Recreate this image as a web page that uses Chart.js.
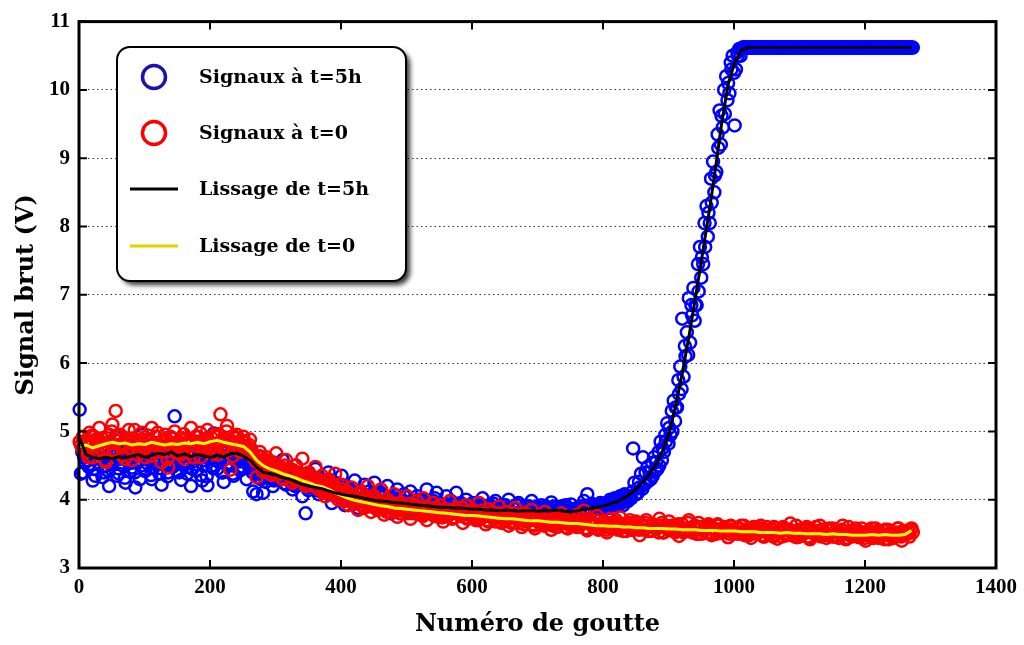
<!DOCTYPE html>
<html>
<head>
<meta charset="utf-8">
<script src="https://cdn.jsdelivr.net/npm/chart.js@4.4.1/dist/chart.umd.min.js"></script>
<style>
  html, body { margin: 0; padding: 0; background: #fff; }
  #wrap { width: 1024px; height: 645px; position: relative; }
</style>
</head>
<body>
<div id="wrap"><canvas id="chart"></canvas></div>
<script>
// Drop numbers: scatter sampled every 5 drops in three interleaved passes, smoothed curves every 10
const FIRST_DROP_A = 1;
const FIRST_DROP_B = 3;
const FIRST_DROP_C = 5;
const SCATTER_STEP = 5;
const SMOOTH_STEP = 10;

const xTicks = [0, 200, 400, 600, 800, 1000, 1200, 1400];
const yTicks = [3, 4, 5, 6, 7, 8, 9, 10, 11];

// Signaux à t=5h (blue circles), drops 1, 6, 11, ...
const signal5hA = [
  5.32, 4.40, 4.70, 4.52, 4.28, 4.85, 4.61, 4.33, 4.74, 4.20,
  4.55, 4.92, 4.38, 4.66, 4.25, 4.80, 4.47, 4.18, 4.70, 4.95,
  4.42, 4.60, 4.30, 4.83, 4.52, 4.22, 4.68, 4.40, 4.90, 5.22,
  4.55, 4.29, 4.75, 4.48, 4.20, 4.63, 4.85, 4.36, 4.58, 4.21,
  4.72, 4.97, 4.45, 4.62, 4.26, 4.80, 4.50, 4.35, 4.70, 4.43,
  4.62, 4.30, 4.55, 4.12, 4.08, 4.40, 4.10, 4.55, 4.32, 4.20,
  4.48, 4.35, 4.58, 4.22, 4.40, 4.15, 4.50, 4.28, 4.05, 3.80,
  4.38, 4.20, 4.45, 4.08, 4.30, 4.12, 4.40, 3.95, 4.25, 4.10,
  4.35, 3.92, 4.18, 4.02, 4.28, 3.88, 4.12, 4.22, 3.95, 4.05,
  4.25, 3.85, 4.10, 3.98, 4.20, 3.80, 4.02, 4.15, 3.90, 4.08,
  3.82, 4.12, 3.95, 4.05, 3.78, 4.00, 4.15, 3.88, 3.98, 4.10,
  3.75, 3.92, 4.05, 3.85, 3.95, 4.10, 3.80, 3.92, 4.00, 3.83,
  3.95, 3.72, 3.90, 4.02, 3.82, 3.92, 3.78, 3.98, 3.85, 3.76,
  3.92, 4.00, 3.80, 3.88, 3.95, 3.78, 3.90, 3.82, 3.98, 3.75,
  3.88, 3.92, 3.80, 3.86, 3.96, 3.78, 3.85, 3.90, 3.77, 3.84,
  3.93, 3.80, 3.88, 3.76, 3.98, 4.08, 3.82, 3.90, 3.80, 3.95,
  3.85, 3.92, 4.00, 3.88, 3.96, 4.05, 3.92, 4.02, 4.05, 4.75,
  4.08, 4.18, 4.62, 4.25, 4.40, 4.35, 4.55, 4.50, 4.75, 4.85,
  5.05, 5.00, 5.35, 5.55, 6.65, 6.10, 6.95, 6.70, 6.85, 7.05,
  7.55, 7.70, 8.20, 8.35, 8.75, 9.15, 9.62, 9.65, 10.10, 10.30,
  9.48, 10.50, 10.60, 10.62, 10.62, 10.62, 10.62, 10.62, 10.62, 10.62,
  10.62, 10.62, 10.62, 10.62, 10.62, 10.62, 10.62, 10.62, 10.62, 10.62,
  10.62, 10.62, 10.62, 10.62, 10.62, 10.62, 10.62, 10.62, 10.62, 10.62,
  10.62, 10.62, 10.62, 10.62, 10.62, 10.62, 10.62, 10.62, 10.62, 10.62,
  10.62, 10.62, 10.62, 10.62, 10.62, 10.62, 10.62, 10.62, 10.62, 10.62,
  10.62, 10.62, 10.62, 10.62, 10.62
];

// Signaux à t=5h, drops 3, 8, 13, ...
const signal5hB = [
  4.38, 4.62, 4.58, 4.70, 4.45, 4.55, 4.78, 4.40, 4.64, 4.52,
  4.68, 4.35, 4.60, 4.50, 4.75, 4.42, 4.62, 4.56, 4.30, 4.66,
  4.54, 4.72, 4.46, 4.60, 4.38, 4.66, 4.52, 4.80, 4.48, 4.62,
  4.40, 4.70, 4.56, 4.64, 4.45, 4.52, 4.68, 4.28, 4.62, 4.74,
  4.50, 4.58, 4.68, 4.40, 4.60, 4.52, 4.72, 4.58, 4.46, 4.64,
  4.55, 4.60, 4.48, 4.52, 4.38, 4.30, 4.44, 4.36, 4.46, 4.28,
  4.38, 4.30, 4.42, 4.34, 4.26, 4.38, 4.22, 4.32, 4.28, 4.18,
  4.24, 4.30, 4.14, 4.22, 4.18, 4.26, 4.10, 4.20, 4.14, 4.06,
  4.12, 4.04, 4.14, 4.08, 3.98, 4.10, 4.02, 4.06, 4.12, 3.96,
  4.04, 3.98, 4.08, 3.92, 4.02, 3.96, 4.06, 3.90, 3.98, 4.04,
  3.92, 3.98, 3.88, 4.00, 3.94, 3.86, 3.96, 3.92, 4.02, 3.88,
  3.94, 3.86, 3.92, 3.98, 3.84, 3.90, 3.95, 3.86, 3.92, 3.88,
  3.84, 3.92, 3.86, 3.80, 3.90, 3.86, 3.94, 3.82, 3.88, 3.92,
  3.84, 3.80, 3.88, 3.92, 3.82, 3.86, 3.80, 3.90, 3.85, 3.88,
  3.80, 3.86, 3.90, 3.82, 3.84, 3.88, 3.80, 3.86, 3.92, 3.82,
  3.86, 3.80, 3.84, 3.90, 3.82, 3.88, 3.94, 3.86, 3.92, 3.88,
  3.94, 3.88, 3.96, 4.02, 3.92, 4.00, 4.08, 3.98, 4.02, 4.25,
  4.10, 4.38, 4.22, 4.48, 4.30, 4.62, 4.45, 4.85, 4.70, 5.12,
  4.95, 5.45, 5.35, 5.95, 5.80, 6.45, 6.30, 7.10, 6.85, 7.70,
  7.45, 8.30, 8.05, 8.95, 8.80, 9.70, 9.45, 10.20, 9.95, 10.50,
  10.30, 10.60, 10.62, 10.62, 10.62, 10.62, 10.62, 10.62, 10.62, 10.62,
  10.62, 10.62, 10.62, 10.62, 10.62, 10.62, 10.62, 10.62, 10.62, 10.62,
  10.62, 10.62, 10.62, 10.62, 10.62, 10.62, 10.62, 10.62, 10.62, 10.62,
  10.62, 10.62, 10.62, 10.62, 10.62, 10.62, 10.62, 10.62, 10.62, 10.62,
  10.62, 10.62, 10.62, 10.62, 10.62, 10.62, 10.62, 10.62, 10.62, 10.62,
  10.62, 10.62, 10.62, 10.62, 10.62
];

// Signaux à t=5h, drops 5, 10, 15, ...
const signal5hC = [
  4.70, 4.55, 4.48, 4.66, 4.35, 4.60, 4.72, 4.50, 4.42, 4.64,
  4.58, 4.46, 4.70, 4.32, 4.62, 4.54, 4.40, 4.68, 4.50, 4.44,
  4.62, 4.36, 4.56, 4.70, 4.46, 4.60, 4.34, 4.66, 4.52, 4.42,
  4.64, 4.50, 4.38, 4.70, 4.56, 4.44, 4.62, 4.50, 4.34, 4.60,
  4.46, 4.66, 4.54, 4.40, 4.70, 4.52, 4.38, 4.62, 4.56, 4.48,
  4.60, 4.52, 4.40, 4.46, 4.32, 4.42, 4.26, 4.38, 4.30, 4.40,
  4.30, 4.40, 4.24, 4.36, 4.30, 4.20, 4.34, 4.22, 4.30, 4.14,
  4.28, 4.16, 4.24, 4.12, 4.20, 4.10, 4.18, 4.06, 4.14, 4.02,
  4.14, 4.00, 4.10, 4.04, 3.96, 4.08, 4.00, 3.94, 4.06, 3.98,
  3.94, 4.04, 3.92, 4.00, 3.88, 3.98, 3.94, 3.86, 3.98, 3.92,
  3.88, 3.96, 3.90, 3.84, 3.96, 3.88, 3.92, 3.84, 3.94, 3.86,
  3.92, 3.84, 3.90, 3.86, 3.94, 3.82, 3.88, 3.92, 3.84, 3.90,
  3.82, 3.88, 3.92, 3.84, 3.80, 3.90, 3.86, 3.82, 3.92, 3.84,
  3.88, 3.82, 3.86, 3.92, 3.80, 3.86, 3.90, 3.82, 3.84, 3.90,
  3.82, 3.88, 3.84, 3.80, 3.90, 3.84, 3.86, 3.80, 3.88, 3.84,
  3.80, 3.86, 3.90, 3.82, 3.88, 3.84, 3.92, 3.86, 3.90, 3.94,
  3.90, 3.96, 3.92, 3.98, 4.02, 3.96, 4.06, 4.02, 4.12, 4.08,
  4.26, 4.16, 4.40, 4.28, 4.54, 4.42, 4.70, 4.58, 4.95, 4.82,
  5.30, 5.15, 5.75, 5.62, 6.25, 6.12, 6.85, 6.62, 7.45, 7.25,
  8.05, 7.85, 8.70, 8.50, 9.35, 9.20, 10.00, 9.85, 10.40, 10.25,
  10.55, 10.50, 10.62, 10.62, 10.62, 10.62, 10.62, 10.62, 10.62, 10.62,
  10.62, 10.62, 10.62, 10.62, 10.62, 10.62, 10.62, 10.62, 10.62, 10.62,
  10.62, 10.62, 10.62, 10.62, 10.62, 10.62, 10.62, 10.62, 10.62, 10.62,
  10.62, 10.62, 10.62, 10.62, 10.62, 10.62, 10.62, 10.62, 10.62, 10.62,
  10.62, 10.62, 10.62, 10.62, 10.62, 10.62, 10.62, 10.62, 10.62, 10.62,
  10.62, 10.62, 10.62, 10.62
];

// Signaux à t=0 (red circles), drops 1, 6, 11, ...
const signal0A = [
  4.85, 4.92, 4.70, 4.98, 4.62, 4.88, 5.05, 4.72, 4.55, 4.95,
  5.10, 5.30, 4.80, 4.65, 4.90, 5.02, 4.58, 4.85, 4.75, 4.98,
  4.62, 4.88, 5.05, 4.70, 4.82, 4.55, 4.95, 4.47, 4.78, 5.00,
  4.68, 4.90, 4.60, 4.85, 5.05, 4.72, 4.92, 4.62, 4.88, 5.02,
  4.75, 4.95, 4.66, 5.25, 4.90, 5.08, 4.44, 4.82, 4.95, 4.70,
  4.92, 4.78, 4.88, 4.62, 4.33, 4.70, 4.50, 4.62, 4.38, 4.55,
  4.68, 4.42, 4.30, 4.58, 4.45, 4.25, 4.50, 4.35, 4.60, 4.20,
  4.40, 4.28, 4.48, 4.15, 4.35, 4.05, 4.30, 4.12, 4.38, 4.00,
  4.22, 4.08, 3.92, 4.18, 4.02, 3.85, 4.12, 3.95, 4.20, 3.82,
  4.05, 3.90, 4.15, 3.78, 4.00, 3.92, 4.08, 3.75, 3.95, 3.85,
  4.05, 3.72, 3.90, 3.98, 3.80, 4.02, 3.70, 3.88, 3.95, 3.76,
  3.92, 3.68, 3.85, 3.98, 3.74, 3.88, 3.80, 3.66, 3.92, 3.78,
  3.85, 3.70, 3.95, 3.75, 3.64, 3.86, 3.78, 3.68, 3.90, 3.72,
  3.82, 3.62, 3.76, 3.88, 3.70, 3.60, 3.80, 3.72, 3.85, 3.58,
  3.74, 3.66, 3.82, 3.70, 3.56, 3.76, 3.64, 3.80, 3.68, 3.58,
  3.74, 3.62, 3.78, 3.66, 3.84, 3.55, 3.70, 3.62, 3.76, 3.58,
  3.68, 3.52, 3.72, 3.60, 3.66, 3.74, 3.54, 3.64, 3.70, 3.56,
  3.66, 3.48, 3.62, 3.70, 3.55, 3.64, 3.58, 3.72, 3.52, 3.62,
  3.68, 3.55, 3.60, 3.47, 3.64, 3.56, 3.70, 3.52, 3.60, 3.66,
  3.50, 3.58, 3.64, 3.48, 3.56, 3.62, 3.52, 3.58, 3.45, 3.60,
  3.54, 3.50, 3.62, 3.48, 3.56, 3.44, 3.58, 3.52, 3.62, 3.46,
  3.55, 3.50, 3.60, 3.43, 3.54, 3.58, 3.48, 3.65, 3.52, 3.45,
  3.56, 3.50, 3.60, 3.42, 3.54, 3.48, 3.62, 3.50, 3.44, 3.55,
  3.58, 3.47, 3.52, 3.62, 3.42, 3.53, 3.48, 3.58, 3.45, 3.52,
  3.40, 3.55, 3.48, 3.58, 3.44, 3.50, 3.56, 3.42, 3.52, 3.47,
  3.58, 3.40, 3.50, 3.55, 3.58
];

// Signaux à t=0, drops 3, 8, 13, ...
const signal0B = [
  4.80, 4.72, 4.88, 4.78, 4.92, 4.70, 4.84, 4.76, 4.90, 4.82,
  4.74, 4.86, 4.95, 4.78, 4.68, 4.84, 4.90, 4.76, 4.82, 4.72,
  4.88, 4.80, 4.74, 4.92, 4.78, 4.86, 4.70, 4.84, 4.90, 4.76,
  4.82, 4.74, 4.88, 4.80, 4.70, 4.92, 4.84, 4.78, 4.86, 4.74,
  4.90, 4.82, 4.96, 4.78, 4.88, 4.72, 4.86, 4.92, 4.80, 4.76,
  4.84, 4.70, 4.74, 4.60, 4.55, 4.62, 4.48, 4.56, 4.46, 4.40,
  4.50, 4.38, 4.46, 4.40, 4.34, 4.42, 4.30, 4.38, 4.26, 4.32,
  4.22, 4.30, 4.18, 4.26, 4.14, 4.22, 4.10, 4.18, 4.06, 4.12,
  4.04, 4.10, 3.98, 4.06, 3.94, 4.02, 3.92, 3.98, 3.90, 3.96,
  3.88, 3.95, 3.86, 3.92, 3.84, 3.90, 3.82, 3.90, 3.84, 3.88,
  3.80, 3.88, 3.82, 3.86, 3.78, 3.86, 3.80, 3.84, 3.76, 3.84,
  3.78, 3.82, 3.76, 3.84, 3.74, 3.80, 3.76, 3.82, 3.72, 3.78,
  3.74, 3.80, 3.72, 3.78, 3.70, 3.76, 3.72, 3.78, 3.68, 3.74,
  3.70, 3.76, 3.68, 3.74, 3.66, 3.72, 3.68, 3.74, 3.64, 3.70,
  3.66, 3.72, 3.64, 3.70, 3.62, 3.68, 3.64, 3.70, 3.60, 3.68,
  3.62, 3.68, 3.60, 3.66, 3.58, 3.66, 3.62, 3.64, 3.56, 3.64,
  3.60, 3.66, 3.58, 3.64, 3.56, 3.62, 3.60, 3.66, 3.56, 3.62,
  3.58, 3.64, 3.56, 3.62, 3.54, 3.60, 3.58, 3.62, 3.52, 3.60,
  3.56, 3.62, 3.54, 3.60, 3.52, 3.58, 3.56, 3.60, 3.50, 3.58,
  3.54, 3.60, 3.52, 3.58, 3.50, 3.56, 3.54, 3.58, 3.50, 3.56,
  3.52, 3.58, 3.50, 3.56, 3.48, 3.56, 3.52, 3.58, 3.48, 3.54,
  3.50, 3.56, 3.48, 3.54, 3.46, 3.56, 3.50, 3.54, 3.46, 3.52,
  3.48, 3.56, 3.46, 3.52, 3.50, 3.54, 3.46, 3.52, 3.48, 3.55,
  3.46, 3.52, 3.48, 3.54, 3.44, 3.50, 3.48, 3.54, 3.46, 3.50,
  3.48, 3.52, 3.44, 3.50, 3.46, 3.54, 3.48, 3.50, 3.44, 3.52,
  3.48, 3.54, 3.50, 3.46, 3.52
];

// Signaux à t=0, drops 5, 10, 15, ...
const signal0C = [
  4.75, 4.86, 4.62, 4.94, 4.80, 4.68, 4.90, 4.58, 4.84, 5.00,
  4.70, 4.92, 4.78, 4.60, 4.88, 4.74, 5.02, 4.66, 4.86, 4.78,
  4.94, 4.64, 4.82, 4.98, 4.72, 4.88, 4.60, 4.92, 4.76, 4.84,
  4.66, 4.96, 4.80, 4.88, 4.62, 4.84, 4.98, 4.72, 4.90, 4.80,
  4.68, 4.92, 4.84, 4.74, 5.00, 4.86, 4.64, 4.90, 4.76, 4.86,
  4.72, 4.80, 4.66, 4.56, 4.64, 4.42, 4.58, 4.50, 4.36, 4.52,
  4.46, 4.32, 4.50, 4.36, 4.44, 4.28, 4.40, 4.30, 4.36, 4.22,
  4.34, 4.20, 4.30, 4.24, 4.10, 4.28, 4.14, 4.20, 4.08, 4.16,
  3.98, 4.12, 4.04, 3.94, 4.08, 3.98, 3.88, 4.04, 3.92, 4.00,
  3.86, 3.98, 3.90, 3.82, 3.96, 3.88, 3.94, 3.80, 3.92, 3.86,
  3.94, 3.80, 3.90, 3.84, 3.76, 3.90, 3.82, 3.78, 3.88, 3.80,
  3.74, 3.86, 3.80, 3.72, 3.84, 3.78, 3.88, 3.74, 3.82, 3.76,
  3.80, 3.70, 3.84, 3.76, 3.68, 3.82, 3.74, 3.80, 3.66, 3.78,
  3.74, 3.66, 3.80, 3.70, 3.76, 3.64, 3.78, 3.70, 3.62, 3.76,
  3.70, 3.62, 3.76, 3.68, 3.72, 3.60, 3.74, 3.66, 3.70, 3.62,
  3.70, 3.60, 3.66, 3.72, 3.58, 3.68, 3.62, 3.70, 3.60, 3.66,
  3.56, 3.66, 3.62, 3.70, 3.58, 3.64, 3.54, 3.66, 3.60, 3.68,
  3.56, 3.62, 3.66, 3.54, 3.64, 3.58, 3.52, 3.66, 3.60, 3.56,
  3.62, 3.52, 3.64, 3.58, 3.54, 3.66, 3.56, 3.62, 3.50, 3.60,
  3.56, 3.62, 3.50, 3.58, 3.64, 3.52, 3.60, 3.54, 3.62, 3.50,
  3.58, 3.52, 3.62, 3.48, 3.56, 3.60, 3.50, 3.58, 3.46, 3.60,
  3.52, 3.46, 3.58, 3.54, 3.60, 3.48, 3.56, 3.50, 3.62, 3.46,
  3.54, 3.58, 3.44, 3.52, 3.60, 3.48, 3.56, 3.50, 3.58, 3.46,
  3.54, 3.44, 3.56, 3.50, 3.60, 3.46, 3.54, 3.48, 3.58, 3.44,
  3.52, 3.58, 3.46, 3.54, 3.50, 3.42, 3.56, 3.50, 3.46, 3.58,
  3.46, 3.54, 3.50, 3.56
];

// Lissage de t=5h (black curve), drops 1, 11, 21, ...
const smooth5h = [
  4.90, 4.66, 4.62, 4.60, 4.62, 4.60, 4.63, 4.61, 4.64, 4.66,
  4.62, 4.65, 4.68, 4.66, 4.70, 4.64, 4.67, 4.63, 4.66, 4.64,
  4.62, 4.65, 4.63, 4.67, 4.68, 4.64, 4.58, 4.48, 4.40, 4.38,
  4.36, 4.32, 4.30, 4.26, 4.22, 4.20, 4.18, 4.16, 4.13, 4.10,
  4.08, 4.06, 4.05, 4.03, 4.01, 3.99, 3.98, 3.97, 3.96, 3.95,
  3.94, 3.93, 3.92, 3.91, 3.90, 3.89, 3.89, 3.88, 3.88, 3.87,
  3.86, 3.86, 3.85, 3.85, 3.84, 3.85, 3.84, 3.83, 3.84, 3.84,
  3.83, 3.84, 3.84, 3.85, 3.83, 3.82, 3.84, 3.86, 3.87, 3.89,
  3.91, 3.94, 3.97, 4.02, 4.08, 4.16, 4.26, 4.38, 4.52, 4.72,
  4.98, 5.38, 5.85, 6.38, 6.95, 7.55, 8.15, 8.80, 9.50, 10.08,
  10.40, 10.58, 10.62, 10.62, 10.62, 10.62, 10.62, 10.62, 10.62, 10.62,
  10.62, 10.62, 10.62, 10.62, 10.62, 10.62, 10.62, 10.62, 10.62, 10.62,
  10.62, 10.62, 10.62, 10.62, 10.62, 10.62, 10.62, 10.62
];

// Lissage de t=0 (yellow curve), drops 1, 11, 21, ...
const smooth0 = [
  4.78, 4.80, 4.76, 4.79, 4.82, 4.84, 4.82, 4.83, 4.80, 4.82,
  4.81, 4.84, 4.82, 4.80, 4.82, 4.81, 4.83, 4.82, 4.84, 4.82,
  4.85, 4.87, 4.84, 4.82, 4.80, 4.78, 4.70, 4.58, 4.50, 4.45,
  4.42, 4.38, 4.35, 4.32, 4.28, 4.25, 4.21, 4.19, 4.15, 4.10,
  4.06, 4.02, 3.99, 3.97, 3.95, 3.93, 3.91, 3.90, 3.88, 3.87,
  3.86, 3.85, 3.84, 3.83, 3.82, 3.81, 3.80, 3.79, 3.78, 3.77,
  3.77, 3.76, 3.75, 3.74, 3.73, 3.72, 3.72, 3.71, 3.70, 3.69,
  3.69, 3.68, 3.67, 3.67, 3.66, 3.65, 3.65, 3.64, 3.63, 3.62,
  3.62, 3.61, 3.61, 3.60, 3.60, 3.59, 3.59, 3.58, 3.58, 3.58,
  3.57, 3.57, 3.56, 3.56, 3.56, 3.55, 3.55, 3.55, 3.54, 3.54,
  3.54, 3.53, 3.53, 3.53, 3.52, 3.52, 3.52, 3.51, 3.52, 3.51,
  3.51, 3.50, 3.50, 3.50, 3.49, 3.50, 3.49, 3.49, 3.48, 3.48,
  3.48, 3.49, 3.48, 3.49, 3.48, 3.48, 3.49, 3.55
];

const colors = {
  blue: '#0000ff',
  red: '#ff0000',
  black: '#000000',
  yellow: '#ffff00'
};

const toPoints = (values, first, step) => values.map((v, i) => ({ x: first + step * i, y: v }));

const bluePoints = [
  ...toPoints(signal5hA, FIRST_DROP_A, SCATTER_STEP),
  ...toPoints(signal5hB, FIRST_DROP_B, SCATTER_STEP),
  ...toPoints(signal5hC, FIRST_DROP_C, SCATTER_STEP)
];
const redPoints = [
  ...toPoints(signal0A, FIRST_DROP_A, SCATTER_STEP),
  ...toPoints(signal0B, FIRST_DROP_B, SCATTER_STEP),
  ...toPoints(signal0C, FIRST_DROP_C, SCATTER_STEP)
];

const serif = 'DejaVu Serif';
const tickFont = { family: 'Liberation Serif', weight: 'bold', size: 21 };

// legend entries, drawn in a box inside the plot
const legendItems = [
  { text: 'Signaux à t=5h', kind: 'circle', color: '#1c12b0' },
  { text: 'Signaux à t=0', kind: 'circle', color: colors.red },
  { text: 'Lissage de t=5h', kind: 'line', color: colors.black },
  { text: 'Lissage de t=0', kind: 'line', color: '#e2d200' }
];

function roundedRect(ctx, x, y, w, h, r) {
  ctx.beginPath();
  ctx.moveTo(x + r, y);
  ctx.lineTo(x + w - r, y);
  ctx.arcTo(x + w, y, x + w, y + r, r);
  ctx.lineTo(x + w, y + h - r);
  ctx.arcTo(x + w, y + h, x + w - r, y + h, r);
  ctx.lineTo(x + r, y + h);
  ctx.arcTo(x, y + h, x, y + h - r, r);
  ctx.lineTo(x, y + r);
  ctx.arcTo(x, y, x + r, y, r);
  ctx.closePath();
}

const framePlugin = {
  id: 'frameAndLegend',
  afterDraw(chart) {
    const { ctx, chartArea: a, scales: { x, y } } = chart;
    ctx.save();

    // inward ticks on all four sides
    ctx.strokeStyle = '#000';
    ctx.lineWidth = 2;
    ctx.beginPath();
    x.ticks.forEach(t => {
      const px = x.getPixelForValue(t.value);
      ctx.moveTo(px, a.bottom); ctx.lineTo(px, a.bottom - 8);
      ctx.moveTo(px, a.top); ctx.lineTo(px, a.top + 8);
    });
    y.ticks.forEach(t => {
      const py = y.getPixelForValue(t.value);
      ctx.moveTo(a.left, py); ctx.lineTo(a.left + 8, py);
      ctx.moveTo(a.right, py); ctx.lineTo(a.right - 8, py);
    });
    ctx.stroke();

    // frame
    ctx.lineWidth = 3;
    ctx.strokeRect(a.left, a.top, a.right - a.left, a.bottom - a.top);

    // legend box with drop shadow
    const bx = 117, by = 47, bw = 289, bh = 234;
    ctx.shadowColor = 'rgba(0, 0, 0, 0.8)';
    ctx.shadowBlur = 5;
    ctx.shadowOffsetX = 4;
    ctx.shadowOffsetY = 4;
    roundedRect(ctx, bx, by, bw, bh, 13);
    ctx.fillStyle = '#fff';
    ctx.fill();
    ctx.shadowColor = 'transparent';
    ctx.lineWidth = 2;
    ctx.strokeStyle = '#000';
    ctx.stroke();

    const rows = [77, 133, 189, 246];
    ctx.font = `bold 19px "${serif}"`;
    ctx.textBaseline = 'middle';
    ctx.textAlign = 'left';
    legendItems.forEach((item, i) => {
      const ry = rows[i];
      ctx.strokeStyle = item.color;
      if (item.kind === 'circle') {
        ctx.lineWidth = 3.5;
        ctx.beginPath();
        ctx.arc(154, ry, 11.5, 0, Math.PI * 2);
        ctx.stroke();
      } else {
        ctx.lineWidth = 3;
        ctx.beginPath();
        ctx.moveTo(130, ry);
        ctx.lineTo(178, ry);
        ctx.stroke();
      }
      ctx.fillStyle = '#000';
      ctx.fillText(item.text, 199, ry + 1);
    });

    ctx.restore();
  }
};

new Chart(document.getElementById('chart').getContext('2d'), {
  type: 'scatter',
  data: {
    datasets: [
      {
        label: 'Signaux à t=5h',
        data: bluePoints,
        pointStyle: 'circle',
        pointRadius: 6,
        pointBorderWidth: 2.5,
        pointBorderColor: colors.blue,
        pointBackgroundColor: 'rgba(0,0,0,0)',
        clip: false,
        order: 4
      },
      {
        label: 'Signaux à t=0',
        data: redPoints,
        pointStyle: 'circle',
        pointRadius: 6,
        pointBorderWidth: 2.5,
        pointBorderColor: colors.red,
        pointBackgroundColor: 'rgba(0,0,0,0)',
        clip: false,
        order: 3
      },
      {
        type: 'line',
        label: 'Lissage de t=5h',
        data: toPoints(smooth5h, FIRST_DROP_A, SMOOTH_STEP),
        borderColor: colors.black,
        borderWidth: 3,
        pointRadius: 0,
        tension: 0,
        fill: false,
        order: 1
      },
      {
        type: 'line',
        label: 'Lissage de t=0',
        data: toPoints(smooth0, FIRST_DROP_A, SMOOTH_STEP),
        borderColor: colors.yellow,
        borderWidth: 3,
        pointRadius: 0,
        tension: 0,
        fill: false,
        order: 2
      }
    ]
  },
  options: {
    responsive: true,
    maintainAspectRatio: false,
    animation: false,
    events: [],
    layout: { padding: { top: 19, right: 26, left: 0, bottom: 0 } },
    plugins: {
      legend: { display: false },
      tooltip: { enabled: false }
    },
    scales: {
      x: {
        type: 'linear',
        min: xTicks[0],
        max: xTicks[xTicks.length - 1],
        afterBuildTicks: s => { s.ticks = xTicks.map(v => ({ value: v })); },
        afterFit: s => { s.height = 77; },
        grid: { display: false, drawTicks: false },
        border: { display: false },
        ticks: {
          font: tickFont, color: '#000', padding: 7, maxRotation: 0, autoSkip: false,
          callback: v => String(v)
        },
        title: {
          display: true,
          text: 'Numéro de goutte',
          color: '#000',
          font: { family: serif, weight: 'bold', size: 24 },
          padding: { top: 0, bottom: 6 }
        }
      },
      y: {
        min: yTicks[0],
        max: yTicks[yTicks.length - 1],
        afterBuildTicks: s => { s.ticks = yTicks.map(v => ({ value: v })); },
        afterFit: s => { s.width = 79; },
        grid: { color: '#333', lineWidth: 1, drawTicks: false },
        border: { display: false, dash: [1.5, 3] },
        ticks: { font: tickFont, color: '#000', padding: 9, callback: v => String(v) },
        title: {
          display: true,
          text: 'Signal brut (V)',
          color: '#000',
          font: { family: serif, weight: 'bold', size: 24 },
          padding: { top: 12, bottom: 0 }
        }
      }
    }
  },
  plugins: [framePlugin]
});
</script>
</body>
</html>
